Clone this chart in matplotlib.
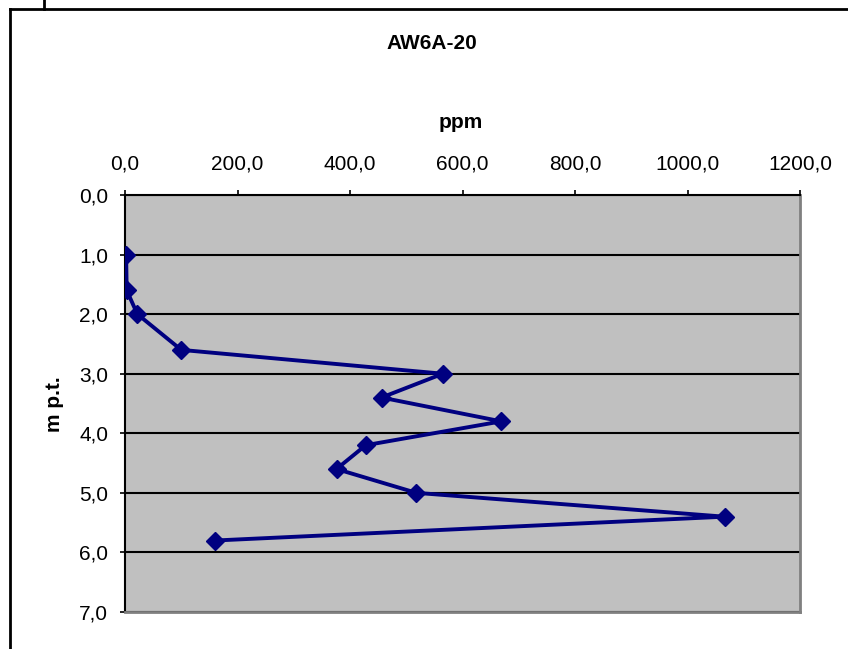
import numpy as np
import matplotlib.pyplot as plt
from matplotlib.lines import Line2D
from matplotlib.ticker import FuncFormatter

plt.rcParams['font.family'] = ['Liberation Sans', 'DejaVu Sans']

# data
depth = [1.0, 1.6, 2.0, 2.6, 3.0, 3.4, 3.8, 4.2, 4.6, 5.0, 5.4, 5.8]
ppm = [2, 3, 22, 100, 565, 456, 669, 428, 376, 518, 1066, 160]
x_ticks = [0, 200, 400, 600, 800, 1000, 1200]
y_ticks = [0, 1, 2, 3, 4, 5, 6, 7]


def comma_fmt(v, pos):
    return ('%.1f' % v).replace('.', ',')


fig = plt.figure(figsize=(8.48, 6.49), dpi=100)
ax = fig.add_axes([125 / 848, 1 - 612 / 649, 675 / 848, (612 - 195) / 649])

ax.set_facecolor('#C0C0C0')
ax.plot(ppm, depth, color='#000080', lw=2.8, marker='D', ms=9, zorder=3)

ax.set_xlim(0, 1200)
ax.set_ylim(7, 0)
ax.set_xticks(x_ticks)
ax.set_yticks(y_ticks)
ax.xaxis.set_major_formatter(FuncFormatter(comma_fmt))
ax.yaxis.set_major_formatter(FuncFormatter(comma_fmt))
ax.xaxis.tick_top()
ax.tick_params(direction='out', length=3.5, width=1.2, labelsize=15, colors='black')
ax.tick_params(axis='x', pad=12)
ax.tick_params(axis='y', pad=8.5)

ax.grid(axis='y', color='black', lw=1.5)
ax.set_axisbelow(True)

ax.spines['left'].set_color('black')
ax.spines['top'].set_color('black')
ax.spines['left'].set_linewidth(1.5)
ax.spines['top'].set_linewidth(1.5)
ax.spines['right'].set_color('#808080')
ax.spines['bottom'].set_color('#808080')
ax.spines['right'].set_linewidth(2)
ax.spines['bottom'].set_linewidth(2)

# titles
fig.text(432 / 848, 1 - 49 / 649, 'AW6A-20', fontsize=15, fontweight='bold',
         ha='center', va='baseline')
fig.text(461 / 848, 1 - 128 / 649, 'ppm', fontsize=15, fontweight='bold',
         ha='center', va='baseline')
fig.text(55 / 848, 1 - 404 / 649, 'm p.t.', fontsize=15, fontweight='bold',
         ha='center', va='center', rotation=90)

# outer chart frame
fig.add_artist(Line2D([10 / 848, 10 / 848], [0, 1 - 9 / 649], color='black', lw=2))
fig.add_artist(Line2D([10 / 848, 1], [1 - 9 / 649, 1 - 9 / 649], color='black', lw=2))
fig.add_artist(Line2D([44 / 848, 44 / 848], [1 - 9 / 649, 1], color='black', lw=2))

plt.savefig('out.png', dpi=100)
